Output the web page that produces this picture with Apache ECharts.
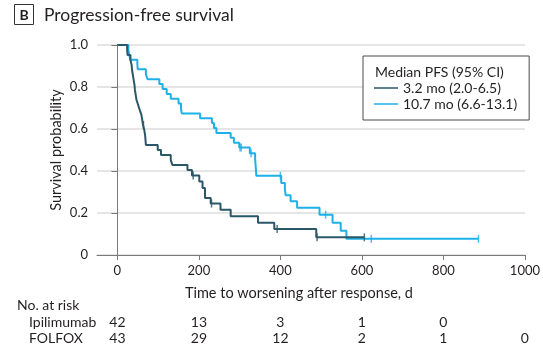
<!DOCTYPE html>
<html>
<head>
<meta charset="utf-8">
<script src="https://cdn.jsdelivr.net/npm/echarts@6/dist/echarts.min.js"></script>
<style>
  html, body { margin: 0; padding: 0; background: #fff; }
  #chart { width: 543px; height: 348px; }
</style>
</head>
<body>
<div id="chart"></div>
<script>
// Kaplan-Meier step points: time (days) and survival after that time
const ipiTimes = [0, 24, 25, 32, 35, 36, 38, 40, 42, 43, 45, 47, 51, 55, 59, 61, 63, 66, 68, 69, 70,
  99, 107, 131, 135, 172, 183, 201, 209, 215, 229, 253, 278, 345, 385, 488, 606];
const ipiSurv = [1, 0.976, 0.952, 0.929, 0.905, 0.881, 0.857, 0.833, 0.810, 0.786, 0.762, 0.738, 0.714,
  0.690, 0.667, 0.643, 0.619, 0.595, 0.571, 0.548, 0.524,
  0.500, 0.476, 0.452, 0.429, 0.405, 0.378, 0.350, 0.319, 0.271, 0.245, 0.215, 0.184, 0.153, 0.124, 0.084, 0.084];
const ipiCensorTimes = [64, 186, 231, 392, 490, 606];
const ipiCensorSurv = [0.619, 0.378, 0.245, 0.124, 0.084, 0.084];

const folTimes = [0, 27, 29, 32, 49, 50, 70, 74, 103, 111, 121, 131, 150, 156, 158, 203, 232, 237, 243,
  278, 286, 299, 325, 338, 339, 340, 341, 402, 411, 413, 425, 441, 496, 528, 548, 562, 886];
const folSurv = [1, 0.977, 0.953, 0.930, 0.907, 0.884, 0.860, 0.837, 0.814, 0.791, 0.767, 0.744, 0.721,
  0.698, 0.674, 0.651, 0.628, 0.605, 0.581, 0.558, 0.535, 0.512, 0.485, 0.458, 0.431, 0.404, 0.377,
  0.343, 0.314, 0.285, 0.256, 0.225, 0.192, 0.154, 0.115, 0.077, 0.077];
const folCensorTimes = [301, 304, 328, 400, 511, 623, 886];
const folCensorSurv = [0.512, 0.512, 0.485, 0.377, 0.192, 0.077, 0.077];

// Axis ticks
const xTicks = [0, 200, 400, 600, 800, 1000];

// Number at risk table
const riskTimes = [0, 200, 400, 600, 800, 1000];
const ipiRisk = [42, 13, 3, 1, 0];
const folRisk = [43, 29, 12, 2, 1, 0];

const seriesNames = ['3.2 mo (2.0-6.5)', '10.7 mo (6.6-13.1)'];
const rowNames = ['Ipilimumab', 'FOLFOX'];

const FONT = 'Lato';
const TEXT = '#231f20';
const DARK = '#2b5868';
const BLUE = '#1cb1e8';

const zip = (a, b) => a.map((v, i) => [v, b[i]]);

const chart = echarts.init(document.getElementById('chart'), null, { renderer: 'canvas' });

chart.setOption({
  animation: false,
  textStyle: { fontFamily: FONT, color: TEXT },
  grid: { left: 97, right: 14, top: 45, bottom: 93, containLabel: false },
  xAxis: {
    type: 'value', min: -50, max: 1000,
    name: 'Time to worsening after response, d',
    nameLocation: 'middle', nameGap: 31,
    nameTextStyle: { fontFamily: FONT, fontSize: 14.5, color: TEXT, padding: [0, 24, 0, 0] },
    axisLine: { show: true, lineStyle: { color: '#7a7a7a', width: 1 } },
    axisTick: { show: true, customValues: xTicks, length: 5, lineStyle: { color: '#7a7a7a' } },
    axisLabel: {
      customValues: xTicks, margin: 9, fontFamily: FONT, fontSize: 13, color: TEXT,
      formatter: v => String(v)
    },
    splitLine: { show: false }
  },
  yAxis: {
    type: 'value', min: 0, max: 1, interval: 0.2,
    name: 'Survival probability',
    nameLocation: 'middle', nameGap: 33, nameMoveOverlap: false,
    nameTextStyle: { fontFamily: FONT, fontSize: 14.5, color: TEXT },
    axisLine: { show: true, lineStyle: { color: '#7a7a7a', width: 1 } },
    axisTick: { show: true, length: 6, lineStyle: { color: '#7a7a7a' } },
    axisLabel: {
      margin: 9, fontFamily: FONT, fontSize: 13, color: TEXT,
      formatter: v => (v === 0 ? '0' : v.toFixed(1))
    },
    splitLine: { show: true, lineStyle: { color: '#dcdcdc', width: 1.5 } }
  },
  legend: {
    data: seriesNames.map(n => ({ name: n, icon: 'rect' })),
    orient: 'vertical',
    left: 363, top: 56,
    padding: [24, 12, 8, 11],
    itemWidth: 24, itemHeight: 1.5, itemGap: 0,
    borderColor: '#4a4a4a', borderWidth: 1, backgroundColor: '#fff',
    textStyle: { fontFamily: FONT, fontSize: 14, color: TEXT, lineHeight: 16 },
    selectedMode: false
  },
  series: [
    {
      name: seriesNames[0], type: 'line', step: 'end', showSymbol: false,
      data: zip(ipiTimes, ipiSurv), color: DARK,
      lineStyle: { color: DARK, width: 2 }, z: 3
    },
    {
      name: seriesNames[1], type: 'line', step: 'end', showSymbol: false,
      data: zip(folTimes, folSurv), color: BLUE,
      lineStyle: { color: BLUE, width: 2 }, z: 2
    },
    {
      name: 'ipiCensor', type: 'scatter', symbol: 'rect', symbolSize: [1.5, 8],
      data: zip(ipiCensorTimes, ipiCensorSurv), itemStyle: { color: DARK }, z: 4
    },
    {
      name: 'folCensor', type: 'scatter', symbol: 'rect', symbolSize: [1.5, 8],
      data: zip(folCensorTimes, folCensorSurv), itemStyle: { color: BLUE }, z: 4
    }
  ]
});

// Panel label, legend heading and the number-at-risk table
const gfx = [
  { type: 'rect', shape: { x: 14.5, y: 4.5, width: 19, height: 20 }, style: { fill: '#fff', stroke: '#333', lineWidth: 1 } },
  { type: 'text', x: 24, y: 15, style: { text: 'B', font: 'bold 14px ' + FONT, fill: TEXT, textAlign: 'center', textVerticalAlign: 'middle' } },
  { type: 'text', x: 44, y: 15, style: { text: 'Progression-free survival', font: '17.5px ' + FONT, fill: TEXT, textVerticalAlign: 'middle' } },
  { type: 'text', x: 375, y: 72, z: 10, style: { text: 'Median PFS (95% CI)', font: '14px ' + FONT, fill: TEXT, textVerticalAlign: 'middle' } },
  { type: 'text', x: 17, y: 305, style: { text: 'No. at risk', font: '14px ' + FONT, fill: TEXT, textVerticalAlign: 'middle' } },
  { type: 'text', x: 29, y: 322, style: { text: rowNames[0], font: '14px ' + FONT, fill: TEXT, textVerticalAlign: 'middle' } },
  { type: 'text', x: 29, y: 338, style: { text: rowNames[1], font: '14px ' + FONT, fill: TEXT, textVerticalAlign: 'middle' } }
];
[[ipiRisk, 322], [folRisk, 338]].forEach(([vals, y]) => {
  vals.forEach((v, i) => {
    const px = chart.convertToPixel({ xAxisIndex: 0 }, riskTimes[i]);
    gfx.push({ type: 'text', x: px, y: y, style: { text: String(v), font: '14px ' + FONT, fill: TEXT, textAlign: 'center', textVerticalAlign: 'middle' } });
  });
});
chart.setOption({ graphic: gfx });
</script>
</body>
</html>
